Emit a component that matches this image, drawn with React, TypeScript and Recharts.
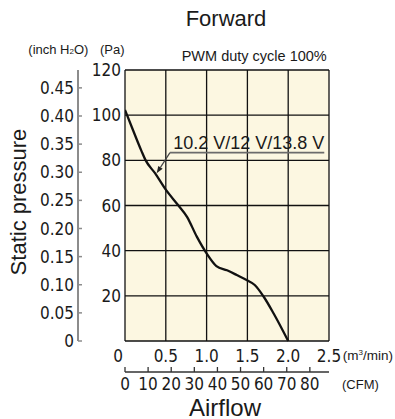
import { LineChart, Line, XAxis, YAxis, CartesianGrid, ReferenceLine } from 'recharts';

// fan P-Q curve (m³/min vs Pa)
const FLOW_M3 = [0, 0.1, 0.2, 0.25, 0.37, 0.5, 0.65, 0.76, 0.88, 1.0, 1.12, 1.25, 1.37, 1.49, 1.59, 1.7, 1.82, 2.0];
const PRESSURE_PA = [102.3, 93.2, 84.3, 80.2, 74.2, 67, 60.2, 55, 46.2, 38.8, 33.2, 31.3, 29.2, 27, 24.8, 19.6, 12.3, 0];

const PA_TICKS = [0, 20, 40, 60, 80, 100, 120];
const INCH_TICKS = [0, 0.05, 0.1, 0.15, 0.2, 0.25, 0.3, 0.35, 0.4, 0.45];
const FLOW_TICKS = [0, 0.5, 1, 1.5, 2, 2.5];
const CFM_TICKS = [0, 10, 20, 30, 40, 50, 60, 70, 80];

const PA_PER_INCH = 249.089;
const CFM_PER_M3 = 35.3147;

// annotation: leader (start -> arrow tip) and the underline under the label
const LEADER = [{ x: 0.551, y: 83.4 }, { x: 0.388, y: 74.3 }];
const UNDERLINE = [{ x: 0.551, y: 83.4 }, { x: 2.442, y: 83.4 }];
const CURVE_LABEL = '10.2 V/12 V/13.8 V';

const data = FLOW_M3.map((flow, i) => ({ flow, pa: PRESSURE_PA[i] }));

const INK = '#1a1a1a';
const NUM_FONT = '"Liberation Sans Narrow", "DejaVu Sans Condensed", "Roboto", sans-serif';
const TXT_FONT = '"Liberation Sans", Arial, sans-serif';

// axis ids: the one that sorts first is drawn next to the plot
const X_M3 = 'a_m3';
const X_CFM = 'b_cfm';
const Y_PA = 'a_pa';
const Y_INCH = 'b_inch';

function InchTick(props: any) {
  const { x, y, payload } = props;
  const v = payload.value as number;
  return (
    <g>
      <line x1={x} y1={y} x2={x + 4} y2={y} stroke="#8c8c8c" strokeWidth={1.5} />
      <text x={x - 4} y={y} dy="0.36em" textAnchor="end" fill={INK} fontSize={17} fontFamily={NUM_FONT}>
        {v === 0 ? '0' : v.toFixed(2)}
      </text>
    </g>
  );
}

function FlowTick(props: any) {
  const { x, y, payload } = props;
  const v = payload.value as number;
  return (
    <text x={v === 0 ? x - 7 : x} y={y + 21} textAnchor="middle" fill={INK} fontSize={17} fontFamily={NUM_FONT}>
      {v === 0 ? '0' : v.toFixed(1)}
    </text>
  );
}

function CfmTick(props: any) {
  const { x, y, payload } = props;
  return (
    <g>
      <line x1={x} y1={y} x2={x} y2={y - 5} stroke="#333" strokeWidth={1.3} />
      <text x={x} y={y + 18} textAnchor="middle" fill={INK} fontSize={17} fontFamily={NUM_FONT}>
        {payload.value}
      </text>
    </g>
  );
}

function LeaderShape(p: any) {
  const { x1, y1, x2, y2 } = p;
  const dx = x2 - x1;
  const dy = y2 - y1;
  const len = Math.hypot(dx, dy) || 1;
  const ux = dx / len;
  const uy = dy / len;
  const hl = 7;
  const hw = 2.6;
  const bx = x2 - ux * hl;
  const by = y2 - uy * hl;
  return (
    <g>
      <line x1={x1} y1={y1} x2={bx} y2={by} stroke="#444" strokeWidth={1.2} />
      <polygon
        points={`${x2},${y2} ${bx - uy * hw},${by + ux * hw} ${bx + uy * hw},${by - ux * hw}`}
        fill="#222"
      />
    </g>
  );
}

function UnderlineShape(p: any) {
  const { x1, y1, x2 } = p;
  return (
    <g>
      <line x1={x1} y1={y1} x2={x2} y2={y1} stroke="#6b6b6b" strokeWidth={1.6} />
      <text x={x2} y={y1 - 3.5} textAnchor="end" fill={INK} fontSize={18} fontFamily={TXT_FONT}>
        {CURVE_LABEL}
      </text>
    </g>
  );
}

const abs = (left: number, top: number, fontSize: number, extra?: any): any => ({
  position: 'absolute',
  left,
  top,
  fontSize,
  lineHeight: 1,
  fontFamily: TXT_FONT,
  color: INK,
  whiteSpace: 'nowrap',
  ...extra,
});

export default function App() {
  return (
    <div style={{ position: 'absolute', left: 0, top: 0, width: 395, height: 419, background: '#fff', overflow: 'hidden' }}>
      <LineChart width={395} height={419} data={data} margin={{ top: 70, right: 66, bottom: 22, left: 0 }}>
        <CartesianGrid
          xAxisId={X_M3}
          yAxisId={Y_PA}
          stroke="#111"
          strokeWidth={1.3}
          fill="#FCF7E1"
          fillOpacity={1}
        />
        <XAxis
          xAxisId={X_M3}
          type="number"
          dataKey="flow"
          domain={[0, 2.5]}
          allowDataOverflow
          ticks={FLOW_TICKS}
          interval={0}
          height={31}
          axisLine={false}
          tickLine={false}
          tickSize={0}
          tickMargin={0}
          tick={<FlowTick />}
        />
        <XAxis
          xAxisId={X_CFM}
          type="number"
          dataKey={(d: any) => d.flow * CFM_PER_M3}
          domain={[0, 2.5 * CFM_PER_M3]}
          allowDataOverflow
          ticks={CFM_TICKS}
          interval={0}
          height={25}
          axisLine={{ stroke: '#333', strokeWidth: 1.5 }}
          tickLine={false}
          tickSize={0}
          tickMargin={0}
          tick={<CfmTick />}
        />
        <YAxis
          yAxisId={Y_PA}
          type="number"
          domain={[0, 120]}
          ticks={PA_TICKS}
          interval={0}
          width={47}
          axisLine={false}
          tickLine={false}
          tickSize={0}
          tickMargin={4}
          tick={{ fill: INK, fontSize: 17, fontFamily: NUM_FONT }}
          tickFormatter={(v: number) => (v === 0 ? '' : String(v))}
        />
        <YAxis
          yAxisId={Y_INCH}
          type="number"
          domain={[0, 120 / PA_PER_INCH]}
          allowDataOverflow
          ticks={INCH_TICKS}
          interval={0}
          width={78}
          axisLine={{ stroke: '#8c8c8c', strokeWidth: 2 }}
          tickLine={false}
          tickSize={0}
          tickMargin={0}
          tick={<InchTick />}
        />
        <Line
          xAxisId={X_M3}
          yAxisId={Y_PA}
          type="monotone"
          dataKey="pa"
          stroke="#111"
          strokeWidth={2.3}
          dot={false}
          activeDot={false}
          isAnimationActive={false}
        />
        <ReferenceLine xAxisId={X_M3} yAxisId={Y_PA} segment={LEADER} shape={LeaderShape} />
        <ReferenceLine xAxisId={X_M3} yAxisId={Y_PA} segment={UNDERLINE} shape={UnderlineShape} />
      </LineChart>

      <div style={abs(226, 8.1, 22, { transform: 'translateX(-50%)' })}>Forward</div>
      <div style={abs(181.7, 49.4, 14.5)}>PWM duty cycle 100%</div>
      <div style={abs(28.3, 42.9, 13)}>
        (inch H<span style={{ fontSize: 8 }}>2</span>O)
      </div>
      <div style={abs(100, 42.9, 13)}>(Pa)</div>
      <div style={abs(342.7, 349.4, 13.5)}>
        (m<sup style={{ fontSize: 8, verticalAlign: 'top', lineHeight: 1 }}>3</sup>/min)
      </div>
      <div style={abs(342, 377.6, 13)}>(CFM)</div>
      <div style={abs(225, 395.5, 24, { transform: 'translateX(-50%)' })}>Airflow</div>
      <div
        style={abs(19 - 100, 191, 22, {
          width: 200,
          lineHeight: '22px',
          textAlign: 'center',
          transform: 'rotate(-90deg)',
        })}
      >
        Static pressure
      </div>
    </div>
  );
}
